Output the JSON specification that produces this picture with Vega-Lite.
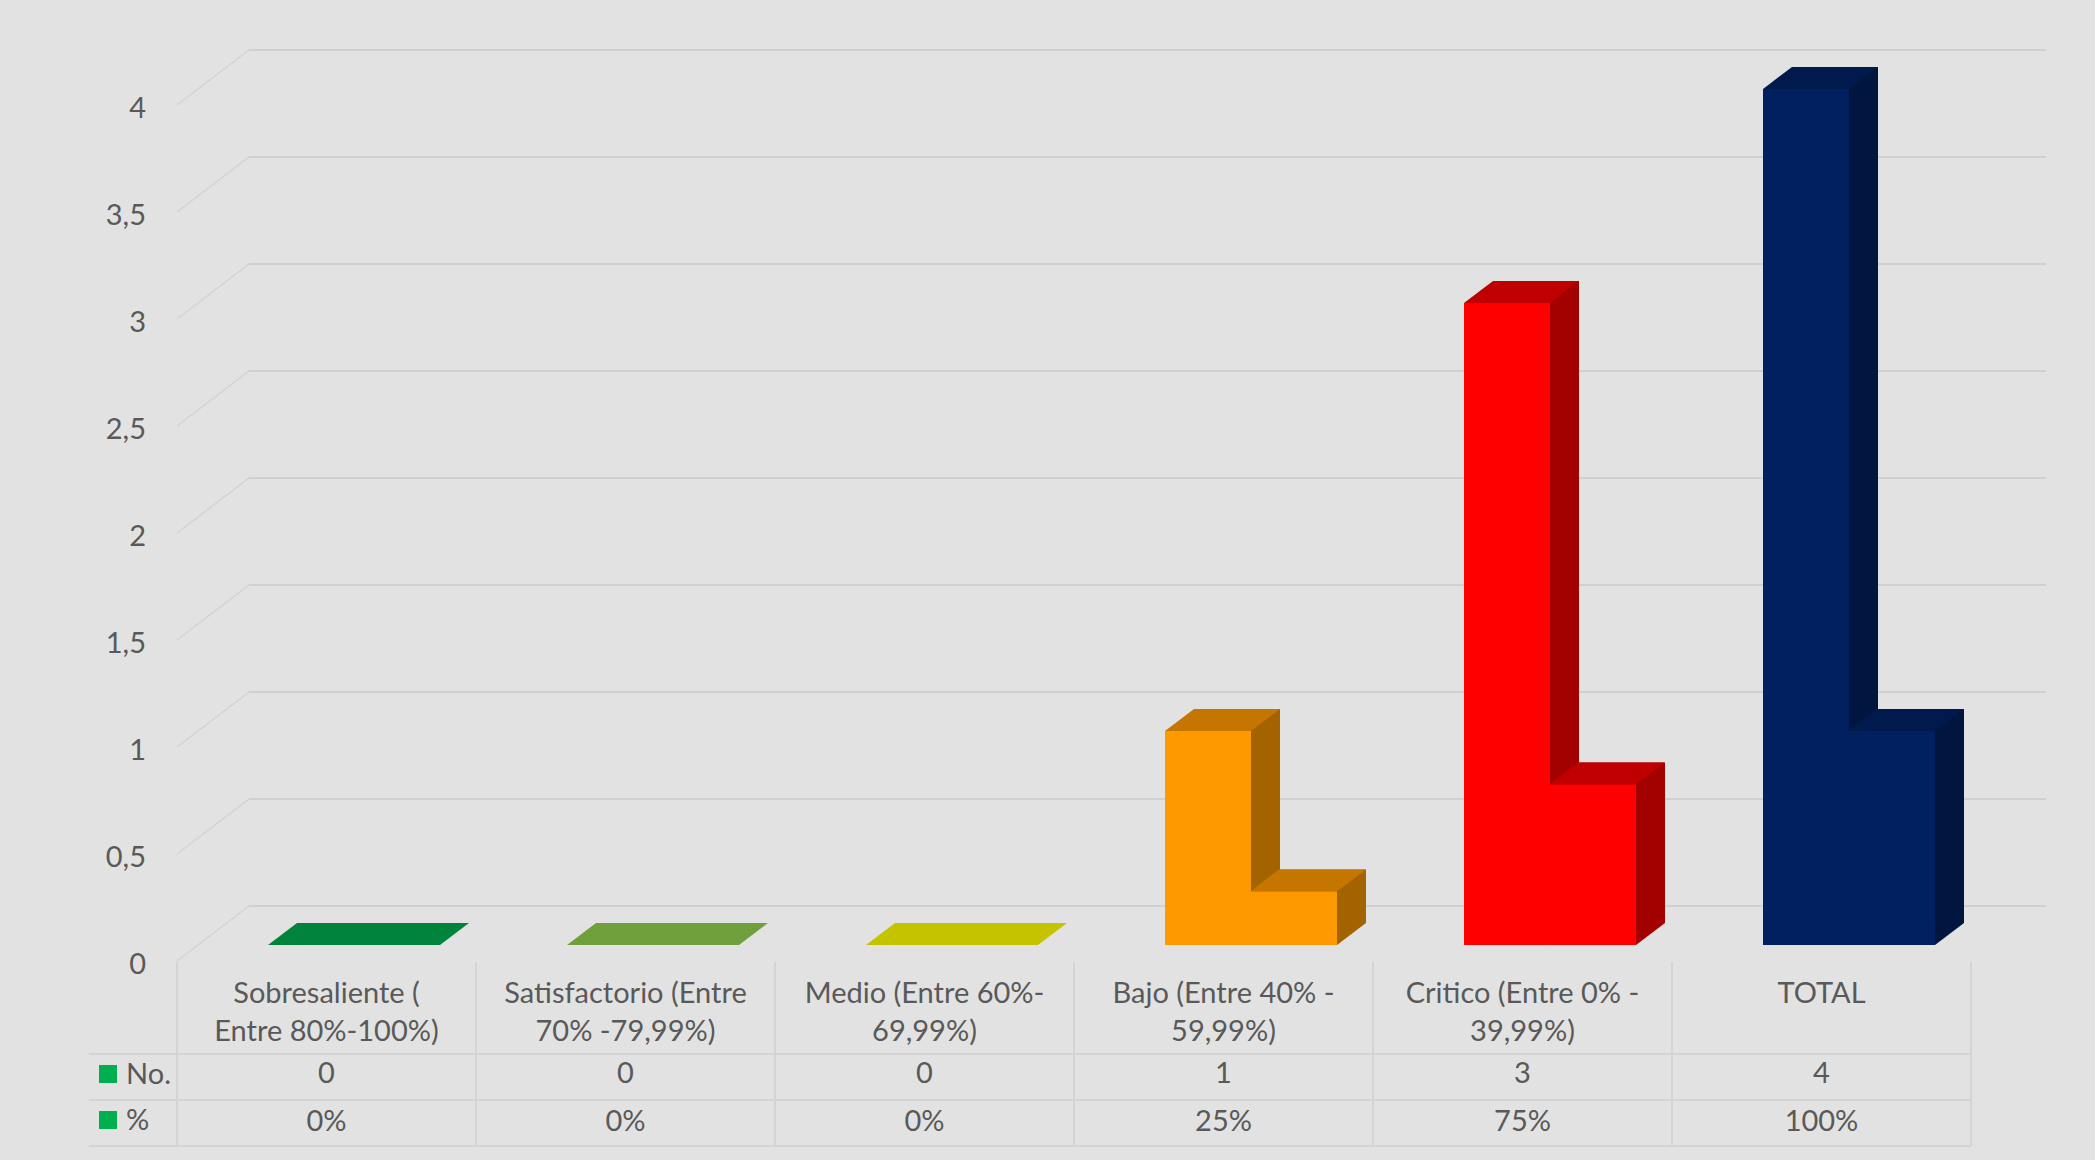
{
  "$schema": "https://vega.github.io/schema/vega-lite/v6.json",
  "padding": {"left": 88, "top": 49, "right": 51, "bottom": 13},
  "background": "#e2e2e2",
  "spacing": 1,
  "bounds": "flush",
  "config": {
    "locale": {"number": {"decimal": ",", "thousands": ".", "grouping": [3], "currency": ["", " €"]}},
    "view": {"stroke": null},
    "font": "Lato",
    "text": {"font": "Lato", "fontSize": 29, "color": "#595959"}
  },
  "datasets": {
    "bars": [
      {"cat": "Sobresaliente", "serie": "No.", "value": 0},
      {"cat": "Sobresaliente", "serie": "%", "value": 0},
      {"cat": "Satisfactorio", "serie": "No.", "value": 0},
      {"cat": "Satisfactorio", "serie": "%", "value": 0},
      {"cat": "Medio", "serie": "No.", "value": 0},
      {"cat": "Medio", "serie": "%", "value": 0},
      {"cat": "Bajo", "serie": "No.", "value": 1},
      {"cat": "Bajo", "serie": "%", "value": 0.25},
      {"cat": "Critico", "serie": "No.", "value": 3},
      {"cat": "Critico", "serie": "%", "value": 0.75},
      {"cat": "TOTAL", "serie": "No.", "value": 4},
      {"cat": "TOTAL", "serie": "%", "value": 1}
    ],
    "cats": [
      {"cat": "Sobresaliente", "l1": "Sobresaliente  (", "l2": "Entre 80%-100%)"},
      {"cat": "Satisfactorio", "l1": "Satisfactorio (Entre", "l2": "70% -79,99%)"},
      {"cat": "Medio", "l1": "Medio (Entre 60%-", "l2": "69,99%)"},
      {"cat": "Bajo", "l1": "Bajo (Entre 40% -", "l2": "59,99%)"},
      {"cat": "Critico", "l1": "Critico (Entre 0% -", "l2": "39,99%)"},
      {"cat": "TOTAL", "l1": "TOTAL", "l2": ""}
    ],
    "grid": [
      {"v": 0}, {"v": 0.5}, {"v": 1}, {"v": 1.5}, {"v": 2},
      {"v": 2.5}, {"v": 3}, {"v": 3.5}, {"v": 4}
    ],
    "rows": [{"row": "No."}, {"row": "%"}]
  },
  "vconcat": [
    {
      "width": 1794,
      "height": 856,
      "resolve": {"scale": {"color": "independent"}},
      "layer": [
        {
          "data": {"name": "grid"},
          "mark": {"type": "rule", "color": "#d0d0d0", "strokeWidth": 2, "xOffset": -77.5, "x2Offset": 224.5, "yOffset": -55},
          "encoding": {
            "x": {"datum": "Sobresaliente", "type": "nominal", "scale": {"domain": ["Sobresaliente", "Satisfactorio", "Medio", "Bajo", "Critico", "TOTAL"], "paddingInner": 0, "paddingOuter": 0}, "axis": null},
            "x2": {"datum": "TOTAL"},
            "y": {"field": "v", "type": "quantitative", "scale": {"domain": [0, 4], "nice": false}, "axis": null}
          }
        },
        {
          "data": {"name": "grid"},
          "mark": {"type": "rule", "color": "#d3d3d3", "strokeWidth": 1.5, "xOffset": -149.5, "x2Offset": -77.5, "y2Offset": -55},
          "encoding": {
            "x": {"datum": "Sobresaliente", "type": "nominal", "scale": {"domain": ["Sobresaliente", "Satisfactorio", "Medio", "Bajo", "Critico", "TOTAL"], "paddingInner": 0, "paddingOuter": 0}, "axis": null},
            "x2": {"datum": "Sobresaliente"},
            "y": {"field": "v", "type": "quantitative", "scale": {"domain": [0, 4], "nice": false}, "axis": null},
            "y2": {"field": "v"}
          }
        },
        {
          "data": {"name": "grid"},
          "mark": {"type": "text", "align": "right", "baseline": "middle", "xOffset": -180.5, "dy": 4},
          "encoding": {
            "x": {"datum": "Sobresaliente", "type": "nominal", "scale": {"domain": ["Sobresaliente", "Satisfactorio", "Medio", "Bajo", "Critico", "TOTAL"], "paddingInner": 0, "paddingOuter": 0}, "axis": null},
            "y": {"field": "v", "type": "quantitative", "scale": {"domain": [0, 4], "nice": false}, "axis": null},
            "text": {"field": "v", "type": "quantitative", "format": ".1~f"}
          }
        },
        {
          "data": {"name": "bars"},
          "transform": [{"filter": "datum.serie === 'No.'"}],
          "mark": {"type": "bar", "width": {"band": 0.2876}, "xOffset": 13.5, "yOffset": -38, "y2Offset": -38},
          "encoding": {
            "x": {"field": "cat", "type": "nominal", "scale": {"domain": ["Sobresaliente", "Satisfactorio", "Medio", "Bajo", "Critico", "TOTAL"], "paddingInner": 0, "paddingOuter": 0}, "axis": null},
            "y": {"field": "value", "type": "quantitative", "scale": {"domain": [0, 4], "nice": false}, "axis": null},
            "y2": {"datum": 0},
            "color": {"field": "cat", "type": "nominal", "legend": null, "scale": {"domain": ["Sobresaliente", "Satisfactorio", "Medio", "Bajo", "Critico", "TOTAL"], "range": ["#006A30", "#5A8230", "#A09E00", "#A36400", "#A30000", "#00163E"]}}
          }
        },
        {
          "data": {"name": "bars"},
          "transform": [{"filter": "datum.serie === 'No.'"}],
          "mark": {"type": "point", "shape": "M-1,0.1913L0.4957,0.1913L1,-0.1913L-0.4957,-0.1913Z", "size": 13225, "filled": true, "opacity": 1, "strokeWidth": 0, "xOffset": -1, "yOffset": -27},
          "encoding": {
            "x": {"field": "cat", "type": "nominal", "scale": {"domain": ["Sobresaliente", "Satisfactorio", "Medio", "Bajo", "Critico", "TOTAL"], "paddingInner": 0, "paddingOuter": 0}, "axis": null},
            "y": {"field": "value", "type": "quantitative", "scale": {"domain": [0, 4], "nice": false}, "axis": null},
            "color": {"field": "cat", "type": "nominal", "legend": null, "scale": {"domain": ["Sobresaliente", "Satisfactorio", "Medio", "Bajo", "Critico", "TOTAL"], "range": ["#00843C", "#70A03C", "#C5C300", "#C47600", "#C00000", "#001A4D"]}}
          }
        },
        {
          "data": {"name": "bars"},
          "transform": [{"filter": "datum.serie === 'No.'"}],
          "mark": {"type": "bar", "width": {"band": 0.2876}, "xOffset": -15.5, "yOffset": -16, "y2Offset": -16},
          "encoding": {
            "x": {"field": "cat", "type": "nominal", "scale": {"domain": ["Sobresaliente", "Satisfactorio", "Medio", "Bajo", "Critico", "TOTAL"], "paddingInner": 0, "paddingOuter": 0}, "axis": null},
            "y": {"field": "value", "type": "quantitative", "scale": {"domain": [0, 4], "nice": false}, "axis": null},
            "y2": {"datum": 0},
            "color": {"field": "cat", "type": "nominal", "legend": null, "scale": {"domain": ["Sobresaliente", "Satisfactorio", "Medio", "Bajo", "Critico", "TOTAL"], "range": ["#00A14B", "#86BC4A", "#E6E300", "#FF9900", "#FF0000", "#002060"]}}
          }
        },
        {
          "data": {"name": "bars"},
          "transform": [{"filter": "datum.serie === '%'"}],
          "mark": {"type": "bar", "width": {"band": 0.2876}, "xOffset": 99.5, "yOffset": -38, "y2Offset": -38},
          "encoding": {
            "x": {"field": "cat", "type": "nominal", "scale": {"domain": ["Sobresaliente", "Satisfactorio", "Medio", "Bajo", "Critico", "TOTAL"], "paddingInner": 0, "paddingOuter": 0}, "axis": null},
            "y": {"field": "value", "type": "quantitative", "scale": {"domain": [0, 4], "nice": false}, "axis": null},
            "y2": {"datum": 0},
            "color": {"field": "cat", "type": "nominal", "legend": null, "scale": {"domain": ["Sobresaliente", "Satisfactorio", "Medio", "Bajo", "Critico", "TOTAL"], "range": ["#006A30", "#5A8230", "#A09E00", "#A36400", "#A30000", "#00163E"]}}
          }
        },
        {
          "data": {"name": "bars"},
          "transform": [{"filter": "datum.serie === '%' && datum.value > 0"}],
          "mark": {"type": "point", "shape": "M-1,0.7586L-1,-0.7586L1,-0.7586Z", "size": 841, "filled": true, "opacity": 1, "strokeWidth": 0, "xOffset": 128, "yOffset": -27},
          "encoding": {
            "x": {"field": "cat", "type": "nominal", "scale": {"domain": ["Sobresaliente", "Satisfactorio", "Medio", "Bajo", "Critico", "TOTAL"], "paddingInner": 0, "paddingOuter": 0}, "axis": null},
            "y": {"datum": 0, "type": "quantitative", "scale": {"domain": [0, 4], "nice": false}, "axis": null},
            "color": {"field": "cat", "type": "nominal", "legend": null, "scale": {"domain": ["Sobresaliente", "Satisfactorio", "Medio", "Bajo", "Critico", "TOTAL"], "range": ["#006A30", "#5A8230", "#A09E00", "#A36400", "#A30000", "#00163E"]}}
          }
        },
        {
          "data": {"name": "bars"},
          "transform": [{"filter": "datum.serie === '%'"}],
          "mark": {"type": "point", "shape": "M-1.0174,0.1913L0.4957,0.1913L1,-0.1913L-0.5131,-0.1913Z", "size": 13225, "filled": true, "opacity": 1, "strokeWidth": 0, "xOffset": 85, "yOffset": -27},
          "encoding": {
            "x": {"field": "cat", "type": "nominal", "scale": {"domain": ["Sobresaliente", "Satisfactorio", "Medio", "Bajo", "Critico", "TOTAL"], "paddingInner": 0, "paddingOuter": 0}, "axis": null},
            "y": {"field": "value", "type": "quantitative", "scale": {"domain": [0, 4], "nice": false}, "axis": null},
            "color": {"field": "cat", "type": "nominal", "legend": null, "scale": {"domain": ["Sobresaliente", "Satisfactorio", "Medio", "Bajo", "Critico", "TOTAL"], "range": ["#00843C", "#70A03C", "#C5C300", "#C47600", "#C00000", "#001A4D"]}}
          }
        },
        {
          "data": {"name": "bars"},
          "transform": [{"filter": "datum.serie === '%'"}],
          "mark": {"type": "bar", "width": {"band": 0.2876}, "xOffset": 70.5, "yOffset": -16, "y2Offset": -16},
          "encoding": {
            "x": {"field": "cat", "type": "nominal", "scale": {"domain": ["Sobresaliente", "Satisfactorio", "Medio", "Bajo", "Critico", "TOTAL"], "paddingInner": 0, "paddingOuter": 0}, "axis": null},
            "y": {"field": "value", "type": "quantitative", "scale": {"domain": [0, 4], "nice": false}, "axis": null},
            "y2": {"datum": 0},
            "color": {"field": "cat", "type": "nominal", "legend": null, "scale": {"domain": ["Sobresaliente", "Satisfactorio", "Medio", "Bajo", "Critico", "TOTAL"], "range": ["#00A14B", "#86BC4A", "#E6E300", "#FF9900", "#FF0000", "#002060"]}}
          }
        }
      ]
    },
    {
      "width": 1794,
      "height": 184,
      "layer": [
        {
          "data": {"name": "cats"},
          "mark": {"type": "rule", "color": "#d4d4d4", "strokeWidth": 2},
          "encoding": {
            "x": {"field": "cat", "type": "nominal", "bandPosition": 0, "scale": {"domain": ["Sobresaliente", "Satisfactorio", "Medio", "Bajo", "Critico", "TOTAL"], "paddingInner": 0, "paddingOuter": 0}, "axis": null}
          }
        },
        {
          "data": {"name": "cats"},
          "transform": [{"filter": "datum.cat === 'TOTAL'"}],
          "mark": {"type": "rule", "color": "#d4d4d4", "strokeWidth": 2},
          "encoding": {
            "x": {"field": "cat", "type": "nominal", "bandPosition": 1, "scale": {"domain": ["Sobresaliente", "Satisfactorio", "Medio", "Bajo", "Critico", "TOTAL"], "paddingInner": 0, "paddingOuter": 0}, "axis": null}
          }
        },
        {
          "data": {"name": "rows"},
          "mark": {"type": "rule", "color": "#d4d4d4", "strokeWidth": 2, "xOffset": -237.5, "x2Offset": 149.5},
          "encoding": {
            "x": {"datum": "Sobresaliente", "type": "nominal", "scale": {"domain": ["Sobresaliente", "Satisfactorio", "Medio", "Bajo", "Critico", "TOTAL"], "paddingInner": 0, "paddingOuter": 0}, "axis": null},
            "x2": {"datum": "TOTAL"},
            "y": {"field": "row", "type": "nominal", "bandPosition": 0, "scale": {"domain": ["h1", "h2", "No.", "%"], "paddingInner": 0, "paddingOuter": 0}, "axis": null}
          }
        },
        {
          "data": {"name": "rows"},
          "transform": [{"filter": "datum.row === '%'"}],
          "mark": {"type": "rule", "color": "#d4d4d4", "strokeWidth": 2, "xOffset": -237.5, "x2Offset": 149.5},
          "encoding": {
            "x": {"datum": "Sobresaliente", "type": "nominal", "scale": {"domain": ["Sobresaliente", "Satisfactorio", "Medio", "Bajo", "Critico", "TOTAL"], "paddingInner": 0, "paddingOuter": 0}, "axis": null},
            "x2": {"datum": "TOTAL"},
            "y": {"field": "row", "type": "nominal", "bandPosition": 1, "scale": {"domain": ["h1", "h2", "No.", "%"], "paddingInner": 0, "paddingOuter": 0}, "axis": null}
          }
        },
        {
          "data": {"name": "cats"},
          "mark": {"type": "text", "dy": 9},
          "encoding": {
            "x": {"field": "cat", "type": "nominal", "scale": {"domain": ["Sobresaliente", "Satisfactorio", "Medio", "Bajo", "Critico", "TOTAL"], "paddingInner": 0, "paddingOuter": 0}, "axis": null},
            "y": {"datum": "h1", "type": "nominal", "scale": {"domain": ["h1", "h2", "No.", "%"], "paddingInner": 0, "paddingOuter": 0}, "axis": null},
            "text": {"field": "l1"}
          }
        },
        {
          "data": {"name": "cats"},
          "mark": {"type": "text", "dy": 1},
          "encoding": {
            "x": {"field": "cat", "type": "nominal", "scale": {"domain": ["Sobresaliente", "Satisfactorio", "Medio", "Bajo", "Critico", "TOTAL"], "paddingInner": 0, "paddingOuter": 0}, "axis": null},
            "y": {"datum": "h2", "type": "nominal", "scale": {"domain": ["h1", "h2", "No.", "%"], "paddingInner": 0, "paddingOuter": 0}, "axis": null},
            "text": {"field": "l2"}
          }
        },
        {
          "data": {"name": "bars"},
          "transform": [{"filter": "datum.serie === 'No.'"}],
          "mark": {"type": "text", "dy": -3},
          "encoding": {
            "x": {"field": "cat", "type": "nominal", "scale": {"domain": ["Sobresaliente", "Satisfactorio", "Medio", "Bajo", "Critico", "TOTAL"], "paddingInner": 0, "paddingOuter": 0}, "axis": null},
            "y": {"field": "serie", "type": "nominal", "scale": {"domain": ["h1", "h2", "No.", "%"], "paddingInner": 0, "paddingOuter": 0}, "axis": null},
            "text": {"field": "value", "type": "quantitative", "format": "d"}
          }
        },
        {
          "data": {"name": "bars"},
          "transform": [{"filter": "datum.serie === '%'"}],
          "mark": {"type": "text", "dy": -1},
          "encoding": {
            "x": {"field": "cat", "type": "nominal", "scale": {"domain": ["Sobresaliente", "Satisfactorio", "Medio", "Bajo", "Critico", "TOTAL"], "paddingInner": 0, "paddingOuter": 0}, "axis": null},
            "y": {"field": "serie", "type": "nominal", "scale": {"domain": ["h1", "h2", "No.", "%"], "paddingInner": 0, "paddingOuter": 0}, "axis": null},
            "text": {"field": "value", "type": "quantitative", "format": ".0%"}
          }
        },
        {
          "data": {"name": "rows"},
          "mark": {"type": "text", "align": "left", "xOffset": -200.5, "dy": -2},
          "encoding": {
            "x": {"datum": "Sobresaliente", "type": "nominal", "scale": {"domain": ["Sobresaliente", "Satisfactorio", "Medio", "Bajo", "Critico", "TOTAL"], "paddingInner": 0, "paddingOuter": 0}, "axis": null},
            "y": {"field": "row", "type": "nominal", "scale": {"domain": ["h1", "h2", "No.", "%"], "paddingInner": 0, "paddingOuter": 0}, "axis": null},
            "text": {"field": "row"}
          }
        },
        {
          "data": {"name": "rows"},
          "mark": {"type": "point", "shape": "square", "size": 324, "filled": true, "opacity": 1, "color": "#00B050", "xOffset": -218.5, "yOffset": -3},
          "encoding": {
            "x": {"datum": "Sobresaliente", "type": "nominal", "scale": {"domain": ["Sobresaliente", "Satisfactorio", "Medio", "Bajo", "Critico", "TOTAL"], "paddingInner": 0, "paddingOuter": 0}, "axis": null},
            "y": {"field": "row", "type": "nominal", "scale": {"domain": ["h1", "h2", "No.", "%"], "paddingInner": 0, "paddingOuter": 0}, "axis": null}
          }
        }
      ]
    }
  ]
}
